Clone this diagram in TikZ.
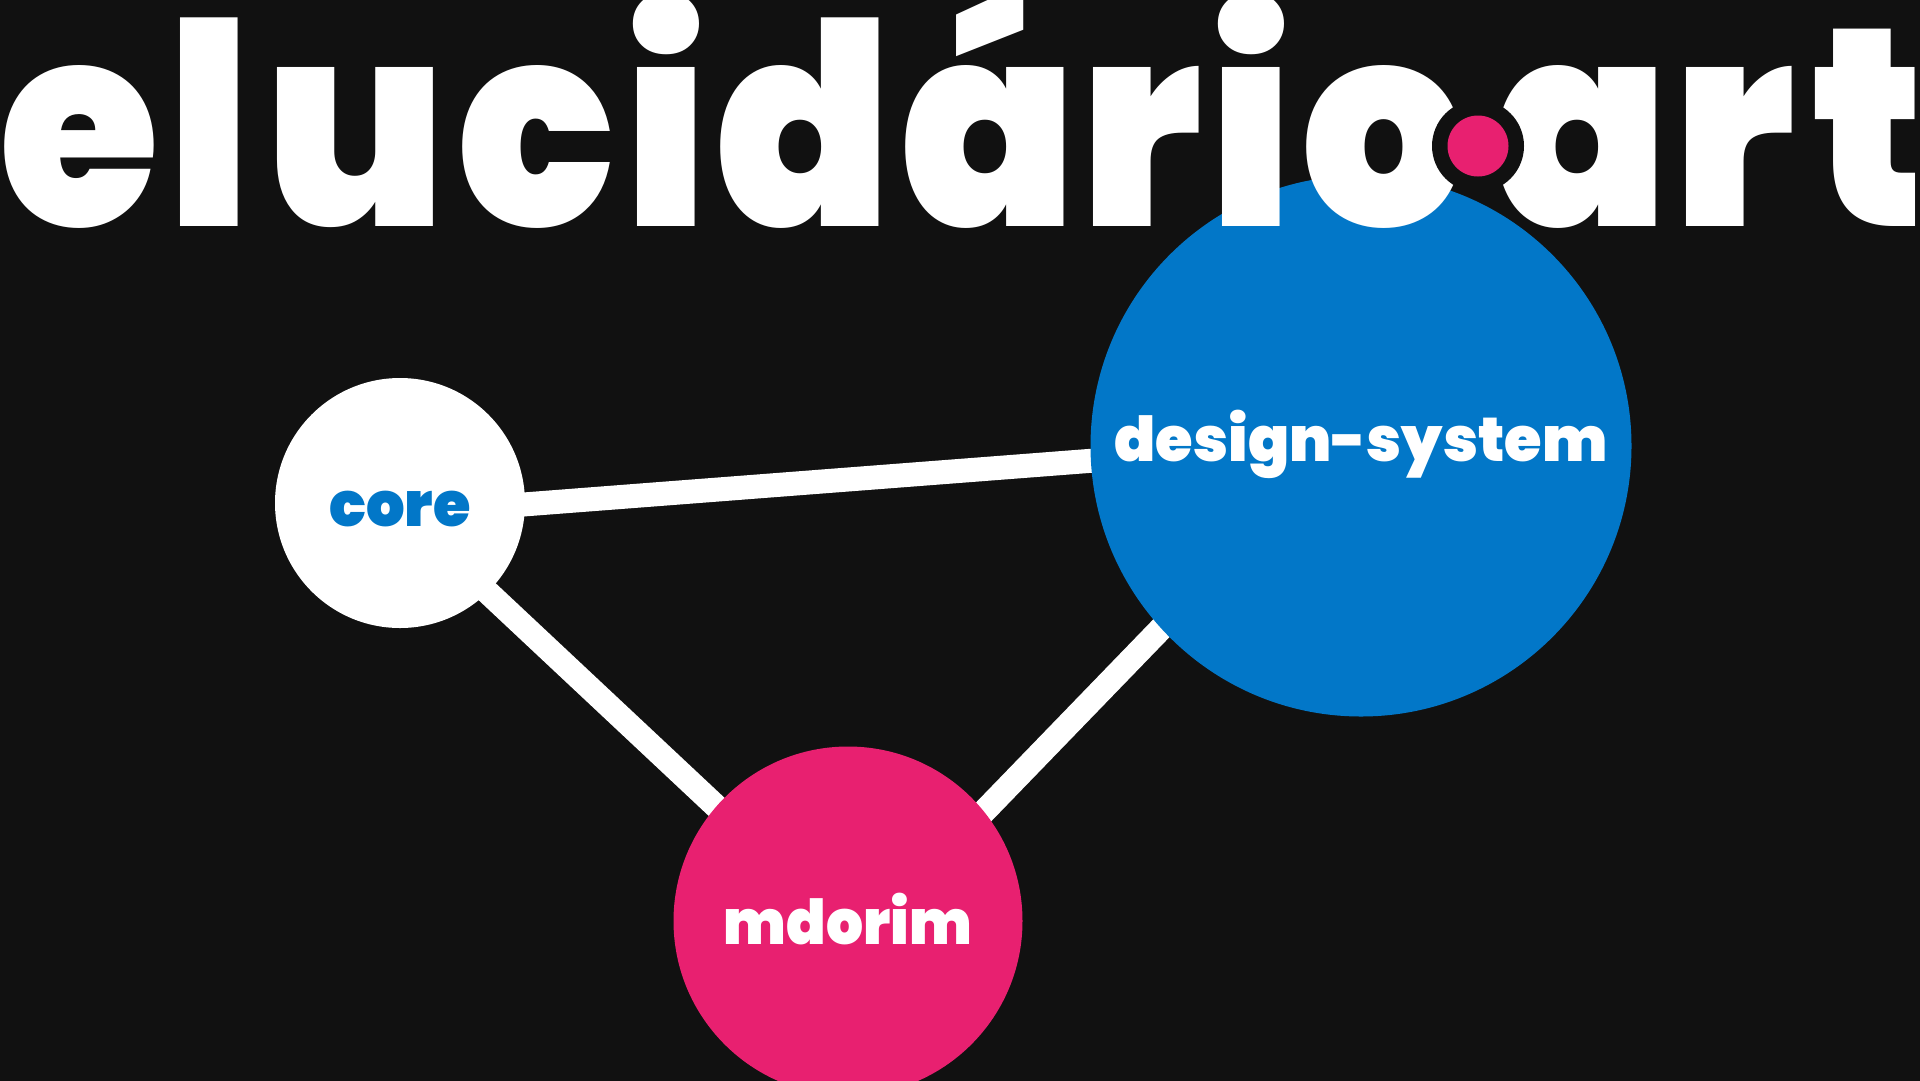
\documentclass[tikz,border=0pt]{standalone}
\usepackage{fontspec}
\newfontfamily\heavyfont[FakeStretch=0.98]{Poppins Black}
\newfontfamily\narrowfont[FakeStretch=0.94]{Poppins Black}
\newfontfamily\wordfont[FakeStretch=0.92]{Poppins Black}
\definecolor{bgdark}{HTML}{111111}
\definecolor{corablue}{HTML}{0277C8}
\definecolor{corapink}{HTML}{E82070}
\tikzset{
	bubble/.style={circle,inner sep=0pt,text depth=0pt,font=\heavyfont\fontsize{62pt}{62pt}\selectfont},
	edge/.style={white,line width=24pt},
	wordmark/.style={inner sep=0pt,white,anchor=base,font=\wordfont\fontsize{282pt}{282pt}\selectfont}
}
\begin{document}
\begin{tikzpicture}[x=1pt,y=-1pt]
	\useasboundingbox (0,0) rectangle (1920,1080);
	\fill[bgdark] (-5,-5) rectangle (1925,1085);
	% edge ends sit inside the bubbles, off centre
	\coordinate (coreA) at (400,514);
	\coordinate (coreB) at (400,510);
	\coordinate (designA) at (1361,440);
	\coordinate (designB) at (1361,422);
	\coordinate (mdorimA) at (848,930);
	\coordinate (mdorimB) at (848,952);
	\draw[edge] (coreA) -- (designA);
	\draw[edge] (coreB) -- (mdorimA);
	\draw[edge] (designB) -- (mdorimB);
	\node[bubble,fill=white,text=corablue,text height=47pt,minimum size=250pt] (core) at (400,503) {core};
	\node[bubble,fill=corablue,text=white,text height=30pt,minimum size=541pt] (design) at (1361,446) {design-system};
	\node[bubble,fill=corapink,text=white,text height=47pt,minimum size=349pt,font=\narrowfont\fontsize{62pt}{62pt}\selectfont] (mdorim) at (848,921) {mdorim};
	% the title, letter by letter
	\foreach \letter/\xpos [count=\n] in {e/79,l/209,u/356,c/536,i/666,d/804,á/989,r/1141,i/1251,o/1384,a/1581,r/1734,t/1868}
		\node[wordmark] (title\n) at (\xpos,226) {\letter};
	\node[circle,fill=bgdark,minimum size=92pt,inner sep=0pt] (halo) at (1478,146) {};
	\node[circle,fill=corapink,minimum size=61pt,inner sep=0pt] (dot) at (halo) {};
\end{tikzpicture}
\end{document}
